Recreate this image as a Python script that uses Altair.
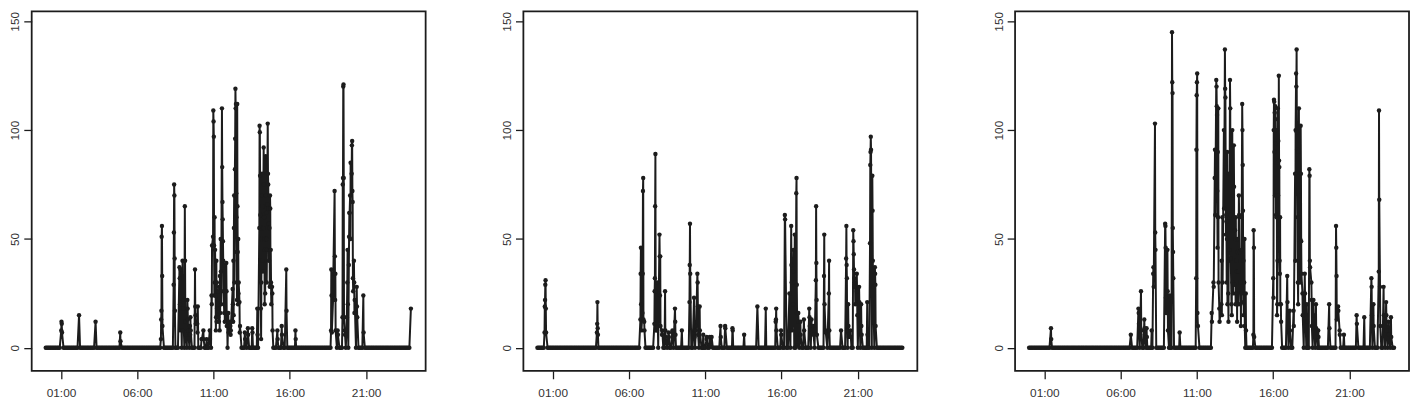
import altair as alt
import pandas as pd

# ---- Panel 1: spike clusters (start time, consecutive per-minute values); all other times are 0
p1_times = ["01:01", "02:11", "03:16", "04:53", "07:33", "08:23", "08:46", "08:58", "09:07",
            "09:17", "09:27", "09:47", "09:56", "10:13", "10:20", "10:33", "10:45", "10:52",
            "10:58", "11:04", "11:08", "11:13", "11:16", "11:20", "11:24", "11:28", "11:33",
            "11:42", "11:50", "11:58", "12:06", "12:15", "12:18", "12:21", "12:24", "12:33",
            "12:37", "12:42", "13:03", "13:15", "13:32", "13:52", "14:00", "14:08", "14:13",
            "14:17", "14:22", "14:25", "14:30", "14:33", "14:40", "14:45", "14:50", "15:11",
            "15:28", "15:46", "16:22", "18:42", "18:50", "18:56", "19:08", "19:27", "19:36",
            "19:43", "19:46", "19:52", "19:57", "20:03", "20:12", "20:23", "20:49", "23:56"]
p1_vals = [[8, 12, 11, 7], [15], [12], [7, 3], [4, 13, 17, 51, 56, 33, 10],
           [29, 53, 75, 70, 41, 17], [37, 32, 20, 8, 36], [40, 8, 22, 18], [65, 40, 12, 6],
           [22, 18, 13, 8], [10, 6, 14, 8], [36, 19, 15, 11], [11, 7, 19], [4, 4], [8, 4],
           [4], [8, 4], [24, 20, 47], [51, 109, 104, 97, 47, 24], [60, 30, 45],
           [24, 8, 14, 40, 12], [30, 18], [20, 26, 14], [22, 12, 28], [8, 33, 16],
           [50, 35, 20], [110, 83, 67, 59, 49, 40, 26], [16, 38, 12], [39, 26, 10, 16],
           [16, 7, 12], [10, 6, 8, 12], [27, 20, 12], [40, 15, 55], [70, 30],
           [82, 96, 119, 110, 112, 71, 60, 44, 22], [112, 65, 44, 20], [50, 25, 30],
           [21, 7, 10], [7, 4], [9, 6], [9, 7], [18, 6], [55, 102, 99, 79, 61, 55, 18, 4],
           [30, 50, 70, 80, 40], [65, 35, 55], [92, 75, 60, 45, 20], [50, 25],
           [88, 70, 62, 50, 30], [45, 66], [103, 80, 75, 64, 57, 40], [55, 28, 70, 64, 29],
           [45, 30, 20], [28, 25, 8], [8, 4], [10, 6], [36, 17], [8, 4], [8, 36, 24, 7],
           [22, 34], [72, 42, 22, 34, 8], [8, 6], [14, 75, 78, 120, 121, 78, 14], [8, 6],
           [8, 14], [30, 45, 20], [38, 51, 62, 62], [70, 50, 85],
           [80, 93, 95, 72, 67, 32, 26], [40, 30, 16, 22], [28, 19, 14], [24, 7], [18]]

# ---- Panel 2
p2_times = ["00:28", "03:54", "06:45", "06:53", "07:00", "07:40", "07:50", "08:00", "08:10",
            "08:22", "08:36", "08:50", "09:01", "09:28", "09:58", "10:16", "10:23", "10:29",
            "10:38", "10:52", "11:05", "11:18", "11:25", "12:00", "12:18", "12:47", "13:33",
            "14:25", "14:58", "15:37", "15:58", "16:13", "16:31", "16:38", "16:45", "16:52",
            "16:58", "17:06", "17:14", "17:28", "17:49", "17:58", "18:05", "18:15", "18:47",
            "18:53", "19:06", "19:54", "20:14", "20:22", "20:30", "20:42", "20:48", "20:56",
            "21:05", "21:13", "21:37", "21:48", "21:57", "22:07"]
p2_vals = [[7, 19, 22, 29, 31, 18, 7], [7, 11, 21, 9, 6], [13, 34, 46, 20, 8],
           [16, 34, 72, 78, 13], [12, 8], [11, 26, 32, 65, 89, 26, 8], [8, 30],
           [52, 42, 24, 42, 10], [6, 8], [26, 8, 5], [7, 5], [7, 8], [18, 12, 6], [8],
           [21, 38, 57, 34], [23, 8, 5], [8, 10], [34, 30, 19, 6], [19, 8], [6], [4, 5],
           [5, 1], [5], [10, 5], [10, 9], [9, 8], [6], [19], [18], [12, 13, 18, 8], [8, 6],
           [61, 59], [25, 8], [56, 38, 30, 8], [20, 35, 45], [52, 30], [71, 78, 29, 16, 1],
           [16, 12], [12, 6], [13, 8], [18, 14, 10], [13, 7], [10, 6], [31, 65, 39, 22, 6],
           [33, 52, 20], [8, 7], [25, 40, 8], [8], [41, 56, 38, 32, 8], [20, 10, 5], [5, 8],
           [54, 49, 43, 36, 32], [28, 30, 20], [34, 26, 15], [28, 21, 13], [20, 10, 6],
           [21, 6], [48, 84, 90, 97, 91], [79, 63, 40, 28], [37, 34, 29, 10]]

# ---- Panel 3
p3_times = ["01:26", "06:40", "07:10", "07:20", "07:33", "07:42", "08:02", "08:08", "08:15",
            "08:55", "09:04", "09:12", "09:22", "09:52", "10:57", "11:04", "11:58", "12:05",
            "12:10", "12:16", "12:22", "12:28", "12:36", "12:40", "12:46", "12:50", "12:55",
            "12:58", "13:03", "13:06", "13:10", "13:16", "13:19", "13:25", "13:30", "13:33",
            "13:37", "13:41", "13:45", "13:51", "13:54", "13:58", "14:03", "14:06", "14:12",
            "14:42", "16:00", "16:05", "16:08", "16:12", "16:15", "16:18", "16:22", "16:27",
            "16:30", "16:55", "17:05", "17:20", "17:26", "17:30", "17:36", "17:40", "17:44",
            "17:48", "17:55", "18:04", "18:12", "18:22", "18:30", "18:38", "18:48", "18:57",
            "19:40", "20:07", "20:15", "20:21", "20:38", "21:28", "21:58", "22:26", "22:34",
            "22:55", "23:00", "23:14", "23:24", "23:34", "23:43"]
p3_vals = [[9, 4], [6], [18, 16, 11], [26, 8], [13, 9, 6], [9, 5], [8], [34, 37, 28],
           [103, 53, 45], [57, 56, 46, 23, 16], [45, 26, 8], [7, 24],
           [145, 122, 117, 55, 44, 32], [7], [32, 91, 116, 122, 126, 16], [10], [16, 12],
           [30, 28], [78, 91, 61], [123, 120, 111, 107, 72, 46], [90, 60, 110, 30], [18, 12],
           [20, 40, 15], [60, 30], [100, 64], [137, 119, 115, 83, 52], [61, 58, 30],
           [50, 90, 20], [25, 12, 40], [80, 45, 60], [123, 110, 61, 41], [20, 15],
           [100, 30, 70, 25], [93, 74, 29], [54, 50, 20], [60, 25, 40], [35, 12, 44],
           [50, 20, 35], [70, 61, 44], [20, 30, 10], [45, 25, 60], [112, 100, 84, 63, 21],
           [40, 15], [30, 50, 10], [25, 8], [6, 54, 46, 5], [32, 23, 100, 114, 113],
           [90, 108, 70], [111, 105, 94, 61], [100, 60, 85], [15, 20, 40], [110, 70, 95, 50],
           [125, 86, 83, 40, 34], [60, 20], [20, 12], [33, 21], [17, 8], [17, 10],
           [80, 40, 100], [126, 120, 137, 99, 91], [60, 30, 20], [90, 110, 60], [70, 30, 50],
           [102, 80, 49, 34], [25, 15], [34, 25], [20, 12], [82, 79, 40, 37], [30, 22, 10],
           [22, 15], [20, 9], [8, 5], [20, 9], [56, 46, 33, 13], [19, 17], [8, 6], [6],
           [15, 11], [14], [32, 28, 15], [20, 10], [35, 109, 68], [28, 10], [28, 15],
           [21, 15, 8], [12, 6], [14, 5]]

x_ticks = [1, 6, 11, 16, 21]
y_ticks = [0, 50, 100, 150]
BASE_STEP_MIN = 5  # zero readings sampled every 5 minutes through the day

INK = "#1c1c1c"
TXT = "#333333"
FONT = "Liberation Sans"


def build(times, vals):
    rows = []
    covered = set()
    for t, vs in zip(times, vals):
        h, m = map(int, t.split(":"))
        start = h * 60 + m
        for i, v in enumerate(vs):
            rows.append((start + i, v))
        for k in range(start - 1, start + len(vs) + 1):
            covered.add(k)
    for mm in range(0, 1440, BASE_STEP_MIN):
        if mm not in covered:
            rows.append((mm, 0))
    df = pd.DataFrame(rows, columns=["minute", "value"]).sort_values("minute")
    df["hour"] = df["minute"] / 60.0
    return df


def panel(df):
    x = alt.X("hour:Q",
              scale=alt.Scale(domain=[-0.92, 24.9], nice=False, zero=False),
              axis=alt.Axis(values=x_ticks, title=None, grid=False, domain=False,
                            labelExpr="(datum.value < 10 ? '0' : '') + datum.value + ':00'",
                            tickSize=8, labelPadding=9, labelFontSize=12,
                            labelColor=TXT, labelFont=FONT, tickColor=INK, tickWidth=1.3))
    y = alt.Y("value:Q",
              scale=alt.Scale(domain=[-10.6, 154.5], nice=False, zero=False),
              axis=alt.Axis(values=y_ticks, title=None, grid=False, domain=False,
                            labelAngle=270, labelAlign="center", labelBaseline="bottom",
                            tickSize=8, labelPadding=2, labelFontSize=12,
                            minExtent=21, maxExtent=21,
                            labelColor=TXT, labelFont=FONT, tickColor=INK, tickWidth=1.3))
    base = alt.Chart(df).encode(x=x, y=y, order=alt.Order("minute:Q"))
    line = base.mark_line(color=INK, strokeWidth=2)
    pts = base.mark_circle(color=INK, size=20, opacity=1)
    return alt.layer(line, pts).properties(width=399, height=364)


charts = [panel(build(p1_times, p1_vals)),
          panel(build(p2_times, p2_vals)),
          panel(build(p3_times, p3_vals))]

chart = (alt.hconcat(*charts, spacing=74)
         .properties(padding=0, background="white")
         .configure_view(stroke=INK, strokeWidth=1.8))

chart.save("out.html", embed_options={"renderer": "svg", "actions": False})
